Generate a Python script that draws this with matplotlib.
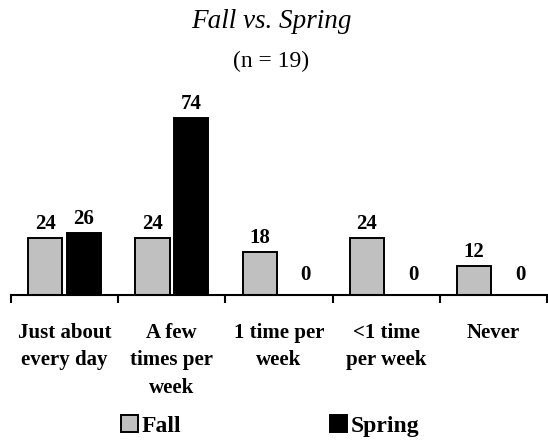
import numpy as np
import matplotlib
matplotlib.use("Agg")
import matplotlib.pyplot as plt
from matplotlib.patches import Patch

categorias = ["Just about\nevery day", "A few\ntimes per\nweek", "1 time per\nweek",
              "<1 time\nper week", "Never"]
fall = [24, 24, 18, 24, 12]
spring = [26, 74, 0, 0, 0]
titulo = "Fall vs. Spring"
subtitulo = "(n = 19)"

GRIS = "#c0c0c0"
SERIF = ["Liberation Serif", "DejaVu Serif"]

fig = plt.figure(figsize=(5.48, 4.42), dpi=100)
ax = fig.add_axes([11 / 548, 147 / 442, 536 / 548, 191 / 442])

x = np.arange(len(categorias))
w = 0.32
b1 = ax.bar(x - 0.18, fall, w, color=GRIS, edgecolor="black", linewidth=1.4)
b2 = ax.bar(x + 0.18, spring, w, color="black", edgecolor="black", linewidth=1.4)

for barras in (b1, b2):
    for r in barras:
        h = r.get_height()
        cx = r.get_x() + r.get_width() / 2
        if h == 0:
            ax.annotate("0", (cx + 0.07, 0), xytext=(0, 7), textcoords="offset points",
                        ha="center", va="bottom", fontsize=15, fontweight="bold", family=SERIF)
        else:
            ax.annotate(f"{h:g}", (cx, h), xytext=(0, 3), textcoords="offset points",
                        ha="center", va="bottom", fontsize=15, fontweight="bold", family=SERIF)

ax.set_xlim(-0.5, len(categorias) - 0.5)
ax.set_ylim(0, 80)
for s in ["left", "right", "top"]:
    ax.spines[s].set_visible(False)
ax.spines["bottom"].set_linewidth(1.5)
ax.set_yticks([])

# ticks en los limites de categoria, etiquetas al centro
ax.set_xticks(np.arange(-0.5, len(categorias)), labels=[])
ax.tick_params(axis="x", which="major", direction="out", length=5.5, width=1.5)
ax.set_xticks(x, labels=categorias, minor=True)
ax.tick_params(axis="x", which="minor", length=0, pad=20)
for t in ax.get_xticklabels(minor=True):
    t.set_fontsize(15)
    t.set_fontweight("bold")
    t.set_family(SERIF)
    t.set_linespacing(1.5)
    t.set_verticalalignment("top")

fig.text(271 / 548, 1 - 21 / 442, titulo, ha="center", va="center", fontsize=19.5,
         style="italic", family=SERIF)
fig.text(271 / 548, 1 - 61 / 442, subtitulo, ha="center", va="center", fontsize=17,
         family=SERIF)

handles = [Patch(facecolor=GRIS, edgecolor="black", linewidth=1.4),
           Patch(facecolor="black", edgecolor="black", linewidth=1.4)]
fig.legend(handles, ["Fall", "Spring"], loc="center", bbox_to_anchor=(270 / 548, 1 - 426 / 442),
           ncol=2, frameon=False, handlelength=0.72, handleheight=0.72, handletextpad=0.15,
           columnspacing=6.3, prop={"family": SERIF, "weight": "bold", "size": 17})

fig.savefig("out.png", dpi=100)
